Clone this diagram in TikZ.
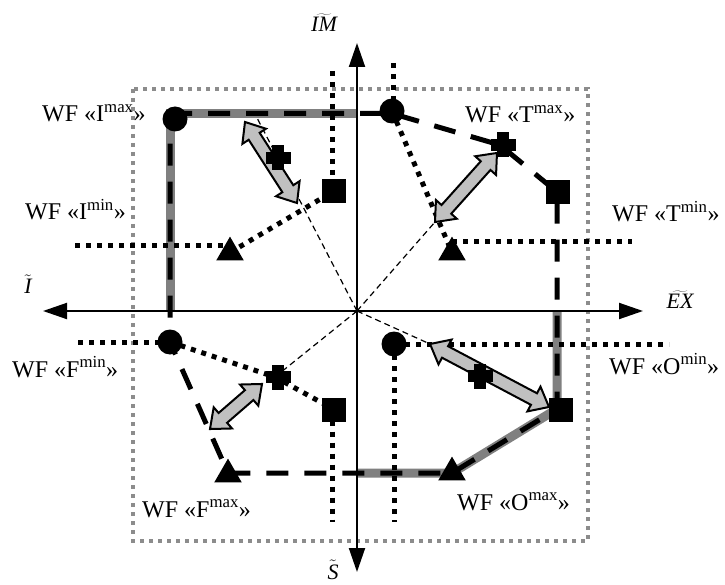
\documentclass[tikz,border=0pt]{standalone}
\usepackage{fontspec}
\setmainfont{Liberation Serif}
\setmathrm{Liberation Serif}
\usetikzlibrary{arrows.meta,shapes.geometric}
\definecolor{boxgray}{RGB}{140,140,140}
\definecolor{undergray}{RGB}{128,128,128}
\definecolor{arrowgray}{RGB}{192,192,192}
\newcommand\plusmk{\rlap{\rule[-6pt]{25pt}{12pt}}\hspace{6.5pt}\rule[-12.5pt]{12pt}{25pt}\hspace{6.5pt}}
\newcommand\fatarr[4]{%
\begin{scope}[shift={(#1,#2)},rotate=#3]
\filldraw[fatarrow] (-#4/2,0) -- (-#4/2+17,14) -- (-#4/2+17,6.5) -- (#4/2-17,6.5) -- (#4/2-17,14) -- (#4/2,0) -- (#4/2-17,-14) -- (#4/2-17,-6.5) -- (-#4/2+17,-6.5) -- (-#4/2+17,-14) -- cycle;
\end{scope}}
\tikzset{
 axisline/.style={line width=2pt, {Triangle[length=24pt,width=16pt]}-{Triangle[length=24pt,width=16pt]}},
 graybox/.style={draw=boxgray, line width=4pt, dash pattern=on 4pt off 5pt},
 dotline/.style={line width=5pt, dash pattern=on 5pt off 6pt},
 thindash/.style={line width=1.2pt, dash pattern=on 6pt off 4pt},
 mainpoly/.style={line width=5pt, dash pattern=on 22pt off 16pt},
 grayunder/.style={line width=9pt, draw=undergray},
 cmark/.style={circle, inner sep=0, minimum size=25pt},
 smark/.style={rectangle, inner sep=0, minimum size=24pt},
 tmark/.style={regular polygon, regular polygon sides=3, inner sep=0, minimum size=31pt},
 pmark/.style={inner sep=0, outer sep=0},
 wflabel/.style={font=\fontsize{24}{28}\selectfont, inner sep=0, anchor=base west},
 axlabel/.style={font=\fontsize{22}{26}\selectfont, inner sep=0},
 fatarrow/.style={fill=arrowgray, draw=black, line width=2pt, line join=miter},
}
\begin{document}
\begin{tikzpicture}[x=1pt,y=-1pt]
\useasboundingbox (0,0) rectangle (725,585);
% gray frame
\draw[graybox] (133,89) rectangle (588,541);
\coordinate (O) at (357,311);
\coordinate (axL) at (43,311);
\coordinate (axR) at (643,311);
\coordinate (axT) at (357,43);
\coordinate (axB) at (357,572);
% polygon corners
\coordinate (kI) at (170,113.5);
\coordinate (kT) at (392,113.5);
\coordinate (kTs) at (557,192);
\coordinate (kOs) at (557,409);
\coordinate (kFc) at (170,342);
\coordinate (kOt) at (452,473);
\coordinate (kFt) at (228,473);
\coordinate (kPT) at (500,145);
\coordinate (xTop) at (357,113.5);
\coordinate (xLeft) at (170,311);
\coordinate (xRight) at (557,311);
\coordinate (xBot) at (357,473);
% ray ends
\coordinate (rI) at (255,114);
\coordinate (rT) at (435,222);
\coordinate (rF) at (275,377);
\coordinate (rO) at (430,344);
% dotted free ends
\coordinate (dIv) at (332,71);
\coordinate (dTv) at (393,63);
\coordinate (dIh) at (75,246);
\coordinate (dTh) at (632,242);
\coordinate (dFh) at (78,342);
\coordinate (dFv) at (332,522);
\coordinate (dOh) at (669,344);
\coordinate (dOv) at (394,522);
% marker nodes (names; filled later on top)
\path
 (175,119) node[cmark] (cI) {}
 (392,111) node[cmark] (cT) {}
 (170,342) node[cmark] (cF) {}
 (394,344) node[cmark] (cO) {}
 (334,191) node[smark] (sI) {}
 (557.5,192) node[smark] (sT) {}
 (334,409.5) node[smark] (sF) {}
 (561,409.5) node[smark] (sO) {}
 (230,252.5) node[tmark] (tI) {}
 (452,252.5) node[tmark] (tT) {}
 (228,474.5) node[tmark] (tF) {}
 (452,472.5) node[tmark] (tO) {};
% thin dashed rays
\draw[thindash] (O) -- (rI);
\draw[thindash] (O) -- (rT);
\draw[thindash] (O) -- (rF);
\draw[thindash] (O) -- (rO);
% gray underlay
\draw[grayunder] (xLeft) -- (kI) -- (xTop);
\draw[grayunder] (xRight) -- (kOs) -- (kOt) -- (xBot);
% main dashed polygon
\draw[mainpoly] (kI) -- (kT) -- (kPT) -- (kTs) -- (kOs) -- (kOt) -- (kFt) -- (kFc) -- cycle;
% dotted lines
\draw[dotline] (dIv) -- (dIv |- sI.center);
\draw[dotline] (dTv) -- (dTv |- cT.center);
\draw[dotline] (dIh) -- (dIh -| tI.center);
\draw[dotline] (dTh -| tT.center) -- (dTh);
\draw[dotline] (dFh) -- (cF.center);
\draw[dotline] (dFv |- sF.center) -- (dFv);
\draw[dotline] (cO.center) -- (dOh);
\draw[dotline] (cO.center) -- (dOv);
\draw[dotline] (tI.center) -- (sI.center);
\draw[dotline] (cT.center) -- (tT.center);
\draw[dotline] (cF.center) -- (rF) -- (sF.center);
% axes
\draw[axisline] (axL) -- (axR);
\draw[axisline] (axT) -- (axB);
% fat double arrows
\fatarr{271}{162.5}{-57.3}{96.3}
\fatarr{466}{187.5}{48.1}{92.8}
\fatarr{236}{406.5}{40.9}{68.8}
\fatarr{489.5}{375.5}{-27.9}{134.6}
% visible markers
\foreach \n in {cI,cT,cF,cO} \fill (\n.center) circle (12.5pt);
\foreach \n in {sI,sT,sF,sO} \fill ([shift={(-12,-12)}]\n.center) rectangle ([shift={(12,12)}]\n.center);
\foreach \n in {tI,tT,tF,tO} \fill (\n.corner 1) -- (\n.corner 2) -- (\n.corner 3) -- cycle;
\node[pmark] (pI) at (275,158) {\plusmk};
\node[pmark] (pT) at (kPT) {\plusmk};
\node[pmark] (pF) at (rF) {\plusmk};
\node[pmark] (pO) at (477,376) {\plusmk};
% labels
\node[wflabel] (lIx) at (42,122) {WF «I\textsuperscript{max}»};
\node[wflabel] (lIn) at (25,220) {WF «I\textsuperscript{min}»};
\node[wflabel] (lTx) at (465,123) {WF «T\textsuperscript{max}»};
\node[wflabel] (lTn) at (612,222) {WF «T\textsuperscript{min}»};
\node[wflabel] (lFn) at (12,377) {WF «F\textsuperscript{min}»};
\node[wflabel] (lFx) at (142,517) {WF «F\textsuperscript{max}»};
\node[wflabel] (lOn) at (609,374) {WF «O\textsuperscript{min}»};
\node[wflabel] (lOx) at (457,510) {WF «O\textsuperscript{max}»};
\node[axlabel] (lIM) at (324,23) {$\widetilde{\mathit{IM}}$};
\node[axlabel] (lI) at (28,284) {$\tilde{\mathit{I}}$};
\node[axlabel] (lEX) at (680,300) {$\widetilde{\mathit{EX}}$};
\node[axlabel] (lS) at (333,570) {$\tilde{\mathit{S}}$};
\end{tikzpicture}
\end{document}
